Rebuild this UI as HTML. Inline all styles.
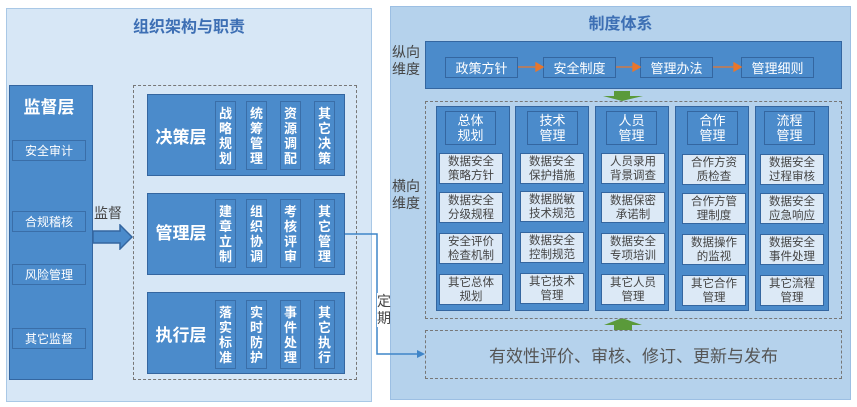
<!DOCTYPE html>
<html><head><meta charset="utf-8"><style>
body{margin:0;width:857px;height:407px;background:#fff;position:relative;overflow:hidden;font-family:"Liberation Sans","Noto Sans CJK SC",sans-serif}
div{position:absolute;box-sizing:border-box}
.c{display:flex;align-items:center;justify-content:center;text-align:center}
.blue{background:#4b8bcb;border:1.5px solid #3466a0;color:#fff}
.lt{background:#dce9f6;border:1.5px solid #3466a0;color:#444;font-size:11.5px;line-height:14px}
.sb{background:#4b8bcb;border:1.5px solid #3a6ea8;color:#fff;font-size:13px;line-height:15px;width:21px;height:69px;font-weight:bold}
.lbl{color:#fff;font-size:17px;font-weight:bold}
.sv{border:1.5px solid #3a6ea8;color:#fff;font-size:12px;left:12px;width:74px;height:21px}
.col{background:#4b8bcb;border:1.5px solid #3466a0;top:106px;width:74px;height:205px}
.hd{background:#4b8bcb;border:1.5px solid #3466a0;color:#fff;font-size:13px;line-height:15px;width:51px;height:34px;top:111px}
</style></head><body>
<div style="left:6px;top:8px;width:366px;height:394px;background:#d7e7f6;border:1px solid #a9c8e6"></div>
<div class="c" style="left:6px;top:12px;width:366px;height:26px;color:#3d6fb4;font-size:16px;font-weight:bold">组织架构与职责</div>
<div style="left:9px;top:85px;width:84px;height:295px;background:#4b8bcb;border:1.5px solid #3466a0"></div>
<div class="c" style="left:9px;top:92px;width:80px;height:26px;color:#fff;font-size:17px;font-weight:bold">监督层</div>
<div class="c sv" style="top:140px">安全审计</div>
<div class="c sv" style="top:211px">合规稽核</div>
<div class="c sv" style="top:264px">风险管理</div>
<div class="c sv" style="top:328px">其它监督</div>
<div style="left:94px;top:203px;font-size:14px;color:#444">监督</div>
<svg style="position:absolute;left:92px;top:224px" width="42" height="26"><polygon points="1,7 28,7 28,1 40,13 28,25 28,19 1,19" fill="#4b8bcb" stroke="#3466a0" stroke-width="1.5"/></svg>
<div style="left:133px;top:85px;width:224px;height:295px;border:1px dashed #777"></div>

<div class="blue" style="left:147px;top:94px;width:198px;height:82px"></div>
<div class="c lbl" style="left:150px;top:120px;width:62px;height:30px">决策层</div>
<div class="c sb" style="left:215px;top:101px">战略规划</div>
<div class="c sb" style="left:246px;top:101px">统筹管理</div>
<div class="c sb" style="left:280px;top:101px">资源调配</div>
<div class="c sb" style="left:314px;top:101px">其它决策</div>

<div class="blue" style="left:147px;top:193px;width:198px;height:82px"></div>
<div class="c lbl" style="left:150px;top:216px;width:62px;height:30px">管理层</div>
<div class="c sb" style="left:215px;top:199px">建章立制</div>
<div class="c sb" style="left:246px;top:199px">组织协调</div>
<div class="c sb" style="left:280px;top:199px">考核评审</div>
<div class="c sb" style="left:314px;top:199px">其它管理</div>

<div class="blue" style="left:147px;top:292px;width:198px;height:82px"></div>
<div class="c lbl" style="left:150px;top:318px;width:62px;height:30px">执行层</div>
<div class="c sb" style="left:215px;top:300px">落实标准</div>
<div class="c sb" style="left:246px;top:300px">实时防护</div>
<div class="c sb" style="left:280px;top:300px">事件处理</div>
<div class="c sb" style="left:314px;top:300px">其它执行</div>

<div style="left:390px;top:6px;width:461px;height:394px;background:#b5d2ec;border:1px solid #9cbfe3"></div>
<div class="c" style="left:390px;top:10px;width:461px;height:24px;color:#3d6fb4;font-size:16px;font-weight:bold">制度体系</div>
<div style="left:392px;top:44px;font-size:14px;line-height:17px;color:#444">纵向<br>维度</div>
<div style="left:392px;top:178px;font-size:14px;line-height:17px;color:#444">横向<br>维度</div>
<div class="blue" style="left:425px;top:41px;width:417px;height:48px"></div>
<div class="c blue" style="left:445px;top:57px;width:73px;height:21px;font-size:13px">政策方针</div>
<div class="c blue" style="left:543px;top:57px;width:73px;height:21px;font-size:13px">安全制度</div>
<div class="c blue" style="left:640px;top:57px;width:73px;height:21px;font-size:13px">管理办法</div>
<div class="c blue" style="left:741px;top:57px;width:73px;height:21px;font-size:13px">管理细则</div>
<svg style="position:absolute;left:0;top:0" width="857" height="407">
<g stroke="#e8762c" stroke-width="1.3" fill="#e8762c">
<line x1="518" y1="67" x2="537" y2="67"/><polygon points="536,63 543,67 536,71"/>
<line x1="616" y1="67" x2="634" y2="67"/><polygon points="633,63 640,67 633,71"/>
<line x1="713" y1="67" x2="735" y2="67"/><polygon points="734,63 741,67 734,71"/>
</g>
<polygon points="614,91 630,91 630,96 643,96 622,101 603,96 614,96" fill="#5a9a3a"/>
<polygon points="622,318 642,325 632,325 632,330 614,330 614,325 604,325" fill="#5a9a3a"/>
<polyline points="345,234 377,234 377,354 418,354" fill="none" stroke="#3f85c8" stroke-width="1.5"/>
<polygon points="417,350 425,354 417,358" fill="#3f85c8"/>
</svg>
<div style="left:377px;top:293px;font-size:14px;line-height:17px;color:#444;background:#fff;width:13px">定<br>期</div>
<div style="left:425px;top:101px;width:417px;height:218px;border:1px dashed #777"></div>
<div class="c" style="left:425px;top:330px;width:417px;height:49px;border:1px dashed #777;font-size:17px;color:#555">有效性评价、审核、修订、更新与发布</div>

<div class="col" style="left:436px"></div><div class="col" style="left:515px"></div><div class="col" style="left:595px"></div><div class="col" style="left:675px"></div><div class="col" style="left:755px"></div>
<div class="c hd" style="left:445px">总体<br>规划</div>
<div class="c hd" style="left:527px">技术<br>管理</div>
<div class="c hd" style="left:606px">人员<br>管理</div>
<div class="c hd" style="left:687px">合作<br>管理</div>
<div class="c hd" style="left:764px">流程<br>管理</div>

<div class="c lt" style="left:439px;top:153px;width:64px;height:31px">数据安全<br>策略方针</div>
<div class="c lt" style="left:439px;top:192px;width:64px;height:31px">数据安全<br>分级规程</div>
<div class="c lt" style="left:439px;top:233px;width:64px;height:31px">安全评价<br>检查机制</div>
<div class="c lt" style="left:439px;top:274px;width:64px;height:31px">其它总体<br>规划</div>

<div class="c lt" style="left:520px;top:153px;width:64px;height:31px">数据安全<br>保护措施</div>
<div class="c lt" style="left:520px;top:191px;width:64px;height:31px">数据脱敏<br>技术规范</div>
<div class="c lt" style="left:520px;top:232px;width:64px;height:31px">数据安全<br>控制规范</div>
<div class="c lt" style="left:520px;top:273px;width:64px;height:31px">其它技术<br>管理</div>

<div class="c lt" style="left:601px;top:153px;width:64px;height:31px">人员录用<br>背景调查</div>
<div class="c lt" style="left:601px;top:192px;width:64px;height:31px">数据保密<br>承诺制</div>
<div class="c lt" style="left:601px;top:233px;width:64px;height:31px">数据安全<br>专项培训</div>
<div class="c lt" style="left:601px;top:274px;width:64px;height:31px">其它人员<br>管理</div>

<div class="c lt" style="left:682px;top:154px;width:64px;height:31px">合作方资<br>质检查</div>
<div class="c lt" style="left:682px;top:193px;width:64px;height:31px">合作方管<br>理制度</div>
<div class="c lt" style="left:682px;top:234px;width:64px;height:31px">数据操作<br>的监视</div>
<div class="c lt" style="left:682px;top:275px;width:64px;height:31px">其它合作<br>管理</div>

<div class="c lt" style="left:760px;top:154px;width:64px;height:31px">数据安全<br>过程审核</div>
<div class="c lt" style="left:760px;top:193px;width:64px;height:31px">数据安全<br>应急响应</div>
<div class="c lt" style="left:760px;top:234px;width:64px;height:31px">数据安全<br>事件处理</div>
<div class="c lt" style="left:760px;top:275px;width:64px;height:31px">其它流程<br>管理</div>
</body></html>
